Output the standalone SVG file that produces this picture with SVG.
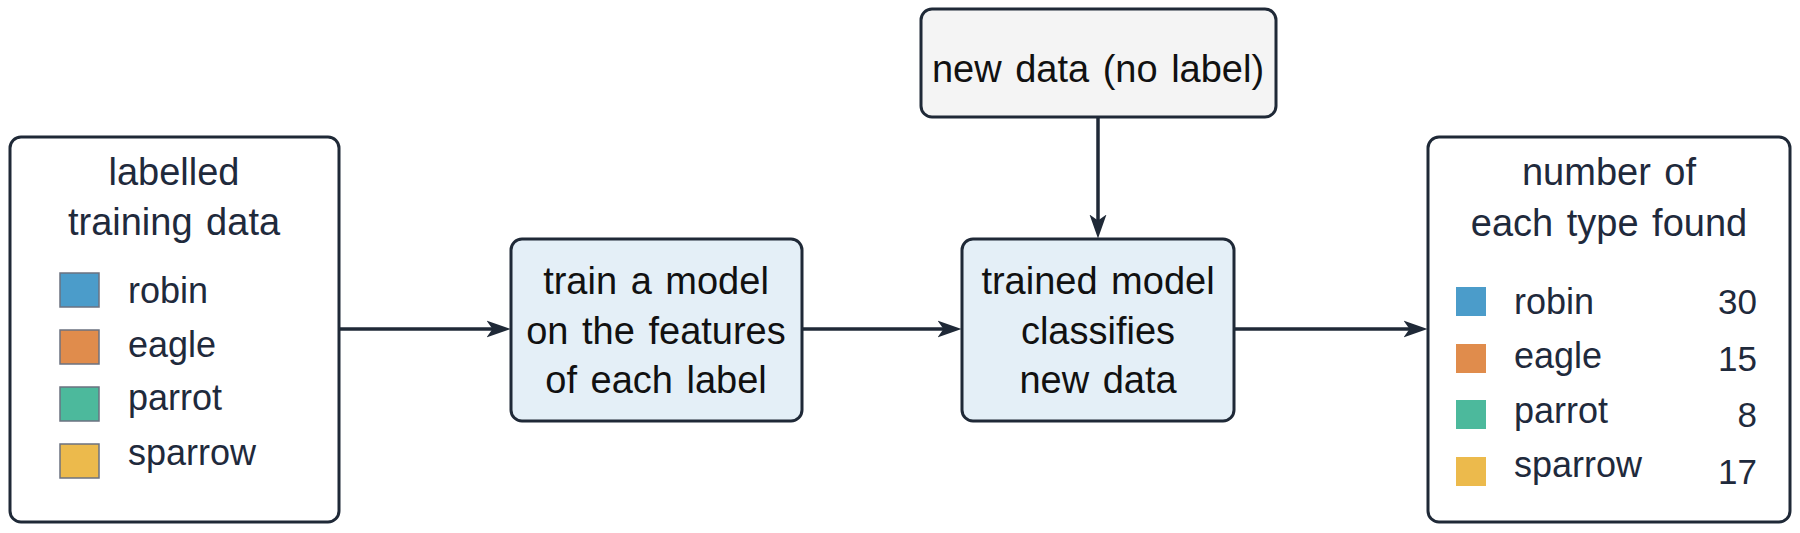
<svg xmlns="http://www.w3.org/2000/svg" width="1800" height="533" viewBox="0 0 1800 533">
<defs>
<marker id="arr" viewBox="0 0 24 18" refX="17.5" refY="9" markerWidth="24" markerHeight="18" markerUnits="userSpaceOnUse" orient="auto">
<path d="M0,0.5 L24,9 L0,17.5 L6,9 Z" fill="#1f2937"/>
</marker>
</defs>
<style>
.box{stroke:#1f2937;stroke-width:3}
.t{font-family:"Liberation Sans",Arial,sans-serif;font-size:38px;text-anchor:middle;word-spacing:3px}
.navy{fill:#1f2a3c}
.blk{fill:#111111}
.lg{font-family:"Liberation Sans",Arial,sans-serif;font-size:36px;fill:#1f2a3c}
.num{font-family:"Liberation Sans",Arial,sans-serif;font-size:35px;fill:#1f2a3c;text-anchor:end}
.conn{stroke:#1f2937;stroke-width:3.5;fill:none}
</style>
<rect width="1800" height="533" fill="#ffffff"/>
<g id="connectors">
<line class="conn" x1="339" y1="329" x2="504" y2="329" marker-end="url(#arr)"/>
<line class="conn" x1="802" y1="329" x2="955" y2="329" marker-end="url(#arr)"/>
<line class="conn" x1="1234" y1="329" x2="1421" y2="329" marker-end="url(#arr)"/>
<line class="conn" x1="1098" y1="117" x2="1098" y2="232" marker-end="url(#arr)"/>
</g>
<g id="training">
<rect class="box" x="10" y="137" width="329" height="385" rx="11" fill="#ffffff"/>
<text class="t navy" x="174" y="185">labelled</text>
<text class="t navy" x="174" y="235">training data</text>
<g stroke="#6b7280" stroke-width="1.5">
<rect x="60" y="273" width="39" height="34" fill="#4b9cca"/>
<rect x="60" y="330" width="39" height="34" fill="#e08c4c"/>
<rect x="60" y="387" width="39" height="34" fill="#4cb99c"/>
<rect x="60" y="444" width="39" height="34" fill="#ecba4c"/>
</g>
<text class="lg" x="128" y="303">robin</text>
<text class="lg" x="128" y="357">eagle</text>
<text class="lg" x="128" y="410">parrot</text>
<text class="lg" x="128" y="465">sparrow</text>
</g>
<g id="train">
<rect class="box" x="511" y="239" width="291" height="182" rx="11" fill="#e4eff7"/>
<text class="t blk" x="656" y="294">train a model</text>
<text class="t blk" x="656" y="344">on the features</text>
<text class="t blk" x="656" y="393">of each label</text>
</g>
<g id="newdata">
<rect class="box" x="921" y="9" width="355" height="108" rx="11" fill="#f4f4f4"/>
<text class="t blk" x="1098" y="82">new data (no label)</text>
</g>
<g id="classify">
<rect class="box" x="962" y="239" width="272" height="182" rx="11" fill="#e4eff7"/>
<text class="t blk" x="1098" y="294">trained model</text>
<text class="t blk" x="1098" y="344">classifies</text>
<text class="t blk" x="1098" y="393">new data</text>
</g>
<g id="counts">
<rect class="box" x="1428" y="137" width="362" height="385" rx="11" fill="#ffffff"/>
<text class="t navy" x="1609" y="185">number of</text>
<text class="t navy" x="1609" y="236">each type found</text>
<rect x="1456" y="287" width="30" height="29" fill="#4b9cca"/>
<rect x="1456" y="344" width="30" height="29" fill="#e08c4c"/>
<rect x="1456" y="400" width="30" height="29" fill="#4cb99c"/>
<rect x="1456" y="457" width="30" height="29" fill="#ecba4c"/>
<text class="lg" x="1514" y="314">robin</text>
<text class="lg" x="1514" y="368">eagle</text>
<text class="lg" x="1514" y="423">parrot</text>
<text class="lg" x="1514" y="477">sparrow</text>
<text class="num" x="1757" y="314">30</text>
<text class="num" x="1757" y="371">15</text>
<text class="num" x="1757" y="427">8</text>
<text class="num" x="1757" y="484">17</text>
</g>
</svg>
